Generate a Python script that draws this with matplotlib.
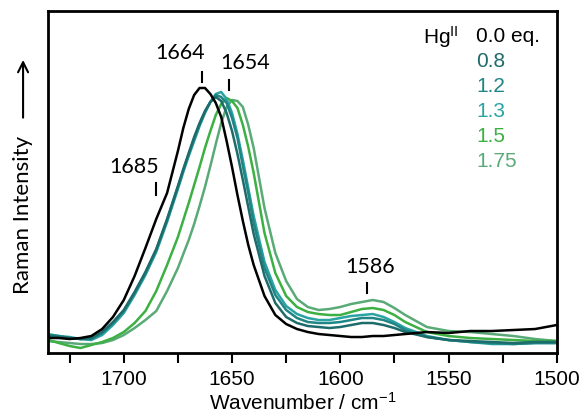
import numpy as np
import matplotlib
matplotlib.use('Agg')
import matplotlib.pyplot as plt

# Raman spectra of the peptide with increasing Hg(II) equivalents
wavenumber = [1735, 1730, 1725, 1720, 1715, 1710, 1705, 1700, 1695, 1690, 1685, 1680,
              1675, 1672.5, 1670, 1667.5, 1665, 1662.5, 1660, 1657.5, 1655, 1652.5,
              1650, 1647.5, 1645, 1642.5, 1640, 1635, 1630, 1625, 1620, 1615, 1610,
              1605, 1600, 1595, 1590, 1585, 1580, 1575, 1570, 1560, 1550, 1540,
              1530, 1520, 1510, 1500]

eq_00 = [15, 15, 14, 15, 17, 24, 36, 53, 77, 105, 134, 160,
         202, 225, 244, 258, 265, 265, 259, 250, 236, 212,
         186, 158, 132, 108, 88, 57, 38, 29, 24, 21, 19,
         18, 17, 16, 16, 17, 17, 18, 19, 21, 20, 22,
         22, 23, 24, 28]
eq_08 = [17, 16, 15, 14, 15, 21, 31, 43, 61, 81, 104, 134,
         167, 184, 200, 216, 230, 242, 251, 256, 252, 240,
         222, 199, 173, 146, 119, 77, 50, 36, 30, 27, 26,
         25, 26, 28, 30, 30, 28, 25, 21, 16, 13, 12,
         11, 10, 11, 11]
eq_12 = [18, 17, 15, 14, 14, 20, 30, 42, 60, 80, 103, 133,
         166, 183, 199, 214, 228, 241, 251, 258, 256, 250,
         235, 215, 187, 160, 130, 85, 58, 43, 35, 31, 30,
         30, 31, 33, 35, 35, 33, 29, 23, 16, 13, 11,
         10, 9, 10, 10]
eq_13 = [19, 17, 16, 14, 13, 18, 28, 40, 58, 78, 101, 131,
         164, 181, 197, 212, 227, 240, 251, 259, 261, 254,
         240, 219, 193, 165, 137, 91, 63, 47, 39, 35, 33,
         33, 35, 37, 38, 39, 36, 31, 25, 17, 13, 11,
         9, 9, 10, 10]
eq_15 = [13, 10, 7, 5, 8, 11, 15, 21, 30, 42, 62, 88,
         116, 133, 150, 168, 186, 205, 222, 238, 249, 255,
         252, 245, 228, 206, 180, 120, 80, 57, 46, 41, 39,
         38, 38, 41, 44, 45, 43, 38, 31, 21, 17, 15,
         14, 13, 12, 12]
eq_175 = [12, 11, 10, 9, 9, 10, 13, 18, 25, 33, 42, 62,
          85, 99, 113, 129, 147, 166, 187, 209, 230, 246,
          253, 252, 246, 228, 205, 145, 100, 72, 54, 46, 43,
          44, 46, 49, 51, 53, 51, 45, 38, 26, 22, 21,
          19, 17, 14, 12]

series = [eq_00, eq_08, eq_12, eq_13, eq_15, eq_175]
eq_labels = ['0.0 eq.', '0.8', '1.2', '1.3', '1.5', '1.75']
colors = ['#000000', '#1d6b6b', '#1f8585', '#2aa3a3', '#3cb043', '#5aaa78']

# peak annotations: label, text centre x, text bottom y, mark x, mark y range
peak_labels = ['1685', '1664', '1654', '1586']
peak_text_x = [1695, 1674, 1644, 1586]
peak_text_y = [176, 290, 280, 76]
peak_mark_x = [1685, 1664, 1651.5, 1587.5]
peak_mark_lo = [158, 271, 263, 60]
peak_mark_hi = [170, 281, 273, 70]

plt.rcParams['font.family'] = ['Liberation Sans', 'DejaVu Sans']
plt.rcParams['mathtext.default'] = 'regular'

fig = plt.figure(figsize=(5.84, 4.16), dpi=100)
ax = fig.add_axes([0.0822, 0.1514, 0.8712, 0.8222])

for y, c in zip(series[::-1], colors[::-1]):
    ax.plot(wavenumber, y, color=c, lw=1.8)

for lab, tx, ty, mx, lo, hi in zip(peak_labels, peak_text_x, peak_text_y,
                                    peak_mark_x, peak_mark_lo, peak_mark_hi):
    ax.text(tx, ty, lab, ha='center', va='bottom', fontsize=15.5, family='Lato')
    ax.plot([mx, mx], [lo, hi], color='black', lw=1.5)

ax.set_xlim(1735, 1500)
ax.set_ylim(0, 342)
ax.set_xticks([1700, 1650, 1600, 1550, 1500])
ax.set_xticks([1725, 1675, 1625, 1575, 1525], minor=True)
ax.set_yticks([])
ax.tick_params(axis='x', which='both', direction='out', length=7, width=1.5,
               labelsize=15, pad=5)
for sp in ax.spines.values():
    sp.set_linewidth(2)

ax.set_xlabel('Wavenumber / cm$^{-1}$', fontsize=15, labelpad=2)

# y label with arrow
ax.text(-0.05, 0.404, 'Raman Intensity', rotation=90, ha='center', va='center',
        fontsize=16, family='Lato', transform=ax.transAxes)
ax.annotate('', xy=(-0.049, 0.865), xytext=(-0.049, 0.68), xycoords='axes fraction',
            arrowprops=dict(arrowstyle='->', lw=1.5, color='black',
                            mutation_scale=18))

# legend as coloured text
ax.text(0.737, 0.924, 'Hg$^{II}$', transform=ax.transAxes, ha='left', va='center',
        fontsize=15)
for i, (lab, c) in enumerate(zip(eq_labels, colors)):
    ax.text(0.841, 0.924 - i * 0.0731, lab, transform=ax.transAxes, ha='left',
            va='center', fontsize=15, color=c)

fig.savefig('out.png', dpi=100)
